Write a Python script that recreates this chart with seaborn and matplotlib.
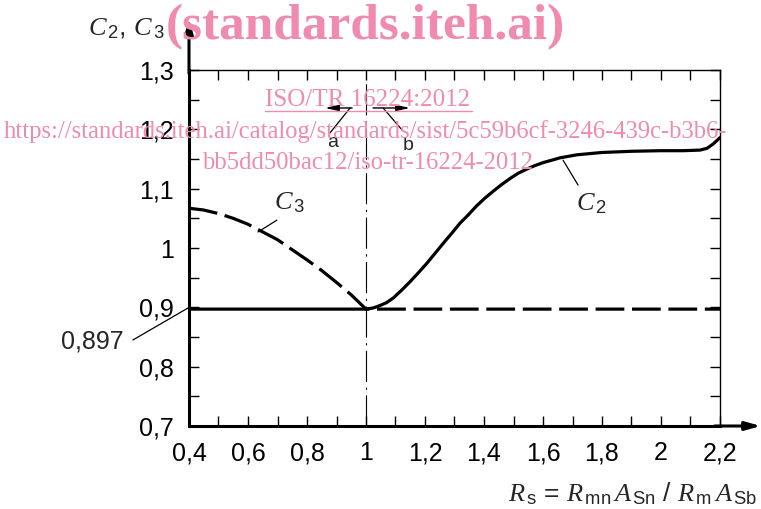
import numpy as np
import pandas as pd
import matplotlib
matplotlib.use("Agg")
import matplotlib.pyplot as plt
from matplotlib.ticker import MultipleLocator, FuncFormatter
from matplotlib.lines import Line2D
import seaborn as sns

# data
c2_x = [0.4, 1.0, 1.025, 1.047, 1.07, 1.093, 1.121, 1.149, 1.177, 1.206, 1.234, 1.262,
        1.291, 1.319, 1.347, 1.375, 1.403, 1.432, 1.46, 1.488, 1.516, 1.545, 1.573,
        1.601, 1.63, 1.658, 1.714, 1.8, 1.9, 2.0, 2.075, 2.132, 2.156, 2.176, 2.2]
c2_y = [0.897, 0.897, 0.899, 0.903, 0.908, 0.916, 0.929, 0.943, 0.958, 0.974, 0.991, 1.008,
        1.025, 1.042, 1.056, 1.071, 1.084, 1.096, 1.107, 1.117, 1.126, 1.133, 1.139,
        1.144, 1.148, 1.152, 1.157, 1.161, 1.163, 1.164, 1.164, 1.165, 1.168, 1.175, 1.186]
c3_x = [0.4, 0.45, 0.5, 0.55, 0.6, 0.65, 0.7, 0.75, 0.8, 0.85, 0.9, 0.95, 1.0, 2.2]
c3_y = [1.067, 1.064, 1.058, 1.050, 1.040, 1.027, 1.014, 0.997, 0.980, 0.962, 0.942,
        0.921, 0.897, 0.897]

sns.set_style("ticks")
plt.rcParams['font.family'] = ['Liberation Sans', 'DejaVu Sans']
plt.rcParams['mathtext.fontset'] = 'custom'
plt.rcParams['mathtext.rm'] = 'Liberation Sans'
plt.rcParams['mathtext.it'] = 'Liberation Serif:italic'
plt.rcParams['mathtext.sf'] = 'Liberation Sans'

W, H = 761, 509
fig = plt.figure(figsize=(W / 100, H / 100), dpi=100)
ax = fig.add_axes([189 / W, 1 - 426 / H, (720 - 189) / W, (426 - 70) / H])

df2 = pd.DataFrame({'x': c2_x, 'y': c2_y})
df3 = pd.DataFrame({'x': c3_x, 'y': c3_y})

sns.lineplot(data=df3, x='x', y='y', ax=ax, color='black', lw=2.3, estimator=None,
             linestyle=(0, (9, 2.4)), dash_capstyle='butt', zorder=3)
sns.lineplot(data=df2, x='x', y='y', ax=ax, color='black', lw=2.3, estimator=None,
             solid_joinstyle='round', zorder=4)

# vertical dash-dot at R_s = 1
ax.axvline(1.0, color='black', lw=0.8, linestyle=(0, (28, 5, 2, 5)), zorder=2)

ax.set_xlim(0.4, 2.2)
ax.set_ylim(0.7, 1.3)
ax.set_xlabel('')
ax.set_ylabel('')

fmt = FuncFormatter(lambda v, p: f"{round(v, 2):g}".replace('.', ','))
ax.xaxis.set_major_locator(MultipleLocator(0.2))
ax.xaxis.set_minor_locator(MultipleLocator(0.1))
ax.yaxis.set_major_locator(MultipleLocator(0.1))
ax.yaxis.set_minor_locator(MultipleLocator(0.05))
ax.xaxis.set_major_formatter(fmt)
ax.yaxis.set_major_formatter(fmt)
ax.tick_params(which='both', direction='in', top=True, right=True, length=7.5,
               width=1.0, color='black')
ax.tick_params(axis='both', which='major', labelsize=18, pad=11, labelcolor='black')

for s in ['left', 'bottom']:
    ax.spines[s].set_linewidth(2.2)
for s in ['top', 'right']:
    ax.spines[s].set_linewidth(1.0)
for s in ax.spines.values():
    s.set_color('black')

# axis arrows
ax.annotate('', xy=(0, 1.145), xytext=(0, 0.99), xycoords='axes fraction',
            arrowprops=dict(arrowstyle='-|>,head_length=0.9,head_width=0.25', lw=2.2,
                            color='black', shrinkA=0, shrinkB=0), annotation_clip=False)
ax.annotate('', xy=(1.077, 0), xytext=(0.99, 0), xycoords='axes fraction',
            arrowprops=dict(arrowstyle='-|>,head_length=0.9,head_width=0.25', lw=2.2,
                            color='black', shrinkA=0, shrinkB=0), annotation_clip=False)

# curve labels
ax.text(0.742, 1.076, r'$C_{\,3}$', fontsize=19, ha='center', va='center')
ax.plot([0.698, 0.634], [1.047, 1.027], color='black', lw=0.9)
ax.text(1.766, 1.074, r'$C_{\,2}$', fontsize=19, ha='center', va='center')
ax.plot([1.668, 1.719], [1.148, 1.106], color='black', lw=0.9)
ax.text(0.071, 0.843, '0,897', fontsize=18, ha='center', va='center')
ax.plot([0.210, 0.397], [0.845, 0.899], color='black', lw=0.9, clip_on=False)

# a / b arrows
hs = '-|>,head_length=0.8,head_width=0.18'
ax.annotate('', xy=(0.861, 1.236), xytext=(0.953, 1.236),
            arrowprops=dict(arrowstyle=hs, lw=1.0, color='black', shrinkA=0, shrinkB=0))
ax.annotate('', xy=(1.149, 1.236), xytext=(1.024, 1.236),
            arrowprops=dict(arrowstyle=hs, lw=1.0, color='black', shrinkA=0, shrinkB=0))
ax.plot([0.946, 0.878], [1.236, 1.194], color='black', lw=0.9)
ax.plot([1.058, 1.122], [1.236, 1.199], color='black', lw=0.9)
ax.text(0.888, 1.178, 'a', fontsize=14, ha='center', va='center')
ax.text(1.142, 1.172, 'b', fontsize=14, ha='center', va='center')

# axis titles
fig.text(126 / W, 1 - 29 / H, r'$C_{\,2}$, $C_{\,3}$', fontsize=19, ha='center', va='center')
fig.text(757 / W, 1 - 494 / H,
         r'$R_{\,\mathrm{s}}$ = $R_{\,\mathrm{mn}}\,A_{\,\mathrm{Sn}}$ / $R_{\,\mathrm{m}}\,A_{\,\mathrm{Sb}}$',
         fontsize=19, ha='right', va='center')

# watermark
pink = '#F08AAE'
fig.text(365 / W, 1 - 27 / H, '(standards.iteh.ai)', fontsize=37, fontweight='bold',
         family='Liberation Serif', color=pink, ha='center', va='center', zorder=10)
fig.text(368 / W, 1 - 100 / H, 'ISO/TR 16224:2012', fontsize=18,
         family='Liberation Serif', color=pink, ha='center', va='center', zorder=10)
fig.add_artist(Line2D([265 / W, 472 / W], [1 - 111 / H, 1 - 111 / H], color=pink, lw=1.0))
fig.text(366 / W, 1 - 132 / H,
         'https://standards.iteh.ai/catalog/standards/sist/5c59b6cf-3246-439c-b3b6-',
         fontsize=17.7, family='Liberation Serif', color=pink, ha='center', va='center', zorder=10)
fig.text(368 / W, 1 - 163 / H, 'bb5dd50bac12/iso-tr-16224-2012', fontsize=17.7,
         family='Liberation Serif', color=pink, ha='center', va='center', zorder=10)

fig.savefig('out.png', dpi=100)
